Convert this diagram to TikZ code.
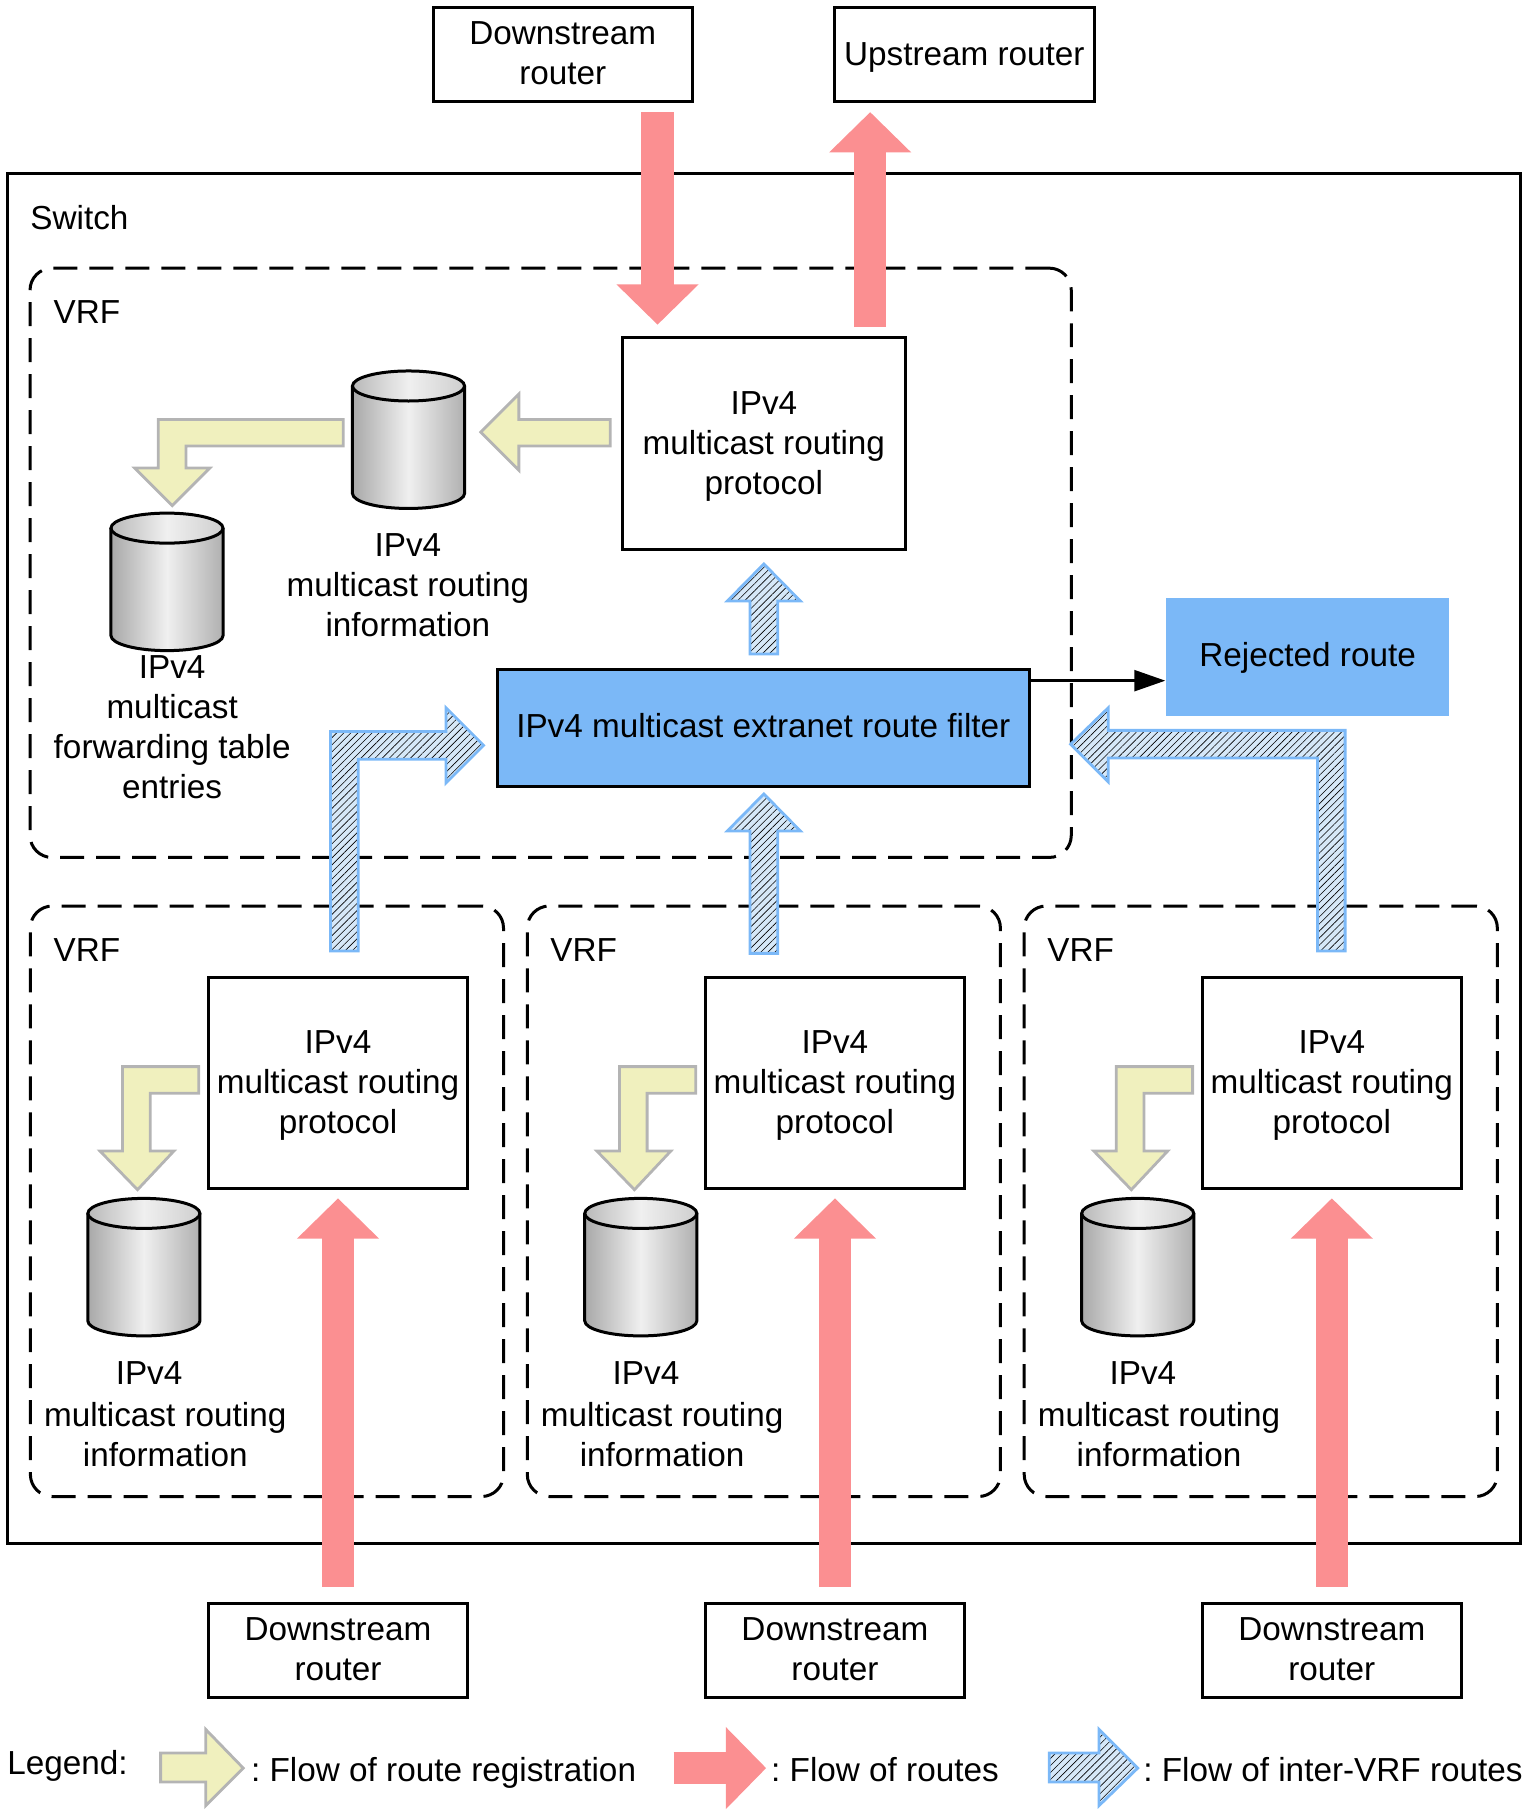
\documentclass[tikz,border=0pt]{standalone}
\usepackage{fontspec}
\setmainfont{Liberation Sans}
\usetikzlibrary{shapes,arrows.meta,positioning,calc,patterns.meta}
\definecolor{regyellow}{HTML}{F0F0BE}
\definecolor{reggray}{HTML}{B4B4B4}
\definecolor{routered}{HTML}{FB8F91}
\definecolor{filterblue}{HTML}{7BB8F7}
\definecolor{hatchblue}{HTML}{D6E8F8}
\frenchspacing
\newcommand{\lowerline}{\rule{0pt}{14.2pt}}

\begin{document}
\begin{tikzpicture}[
    x=0.5779pt, y=-0.5779pt,
    every node/.style={font=\fontsize{16.65}{20}\selectfont, align=center, inner sep=0pt},
    box/.style={rectangle, draw=black, line width=1.5pt, minimum width=129.8pt, minimum height=47pt},
    protobox/.style={box, minimum height=105.8pt},
    routerbox/.style={box, execute at end node={\rule[-1.2pt]{0pt}{0pt}}},
    filterbox/.style={box, fill=filterblue, minimum width=265.9pt, minimum height=58.5pt, execute at end node={\rule[-2.3pt]{0pt}{0pt}}},
    rejectbox/.style={rectangle, fill=filterblue, minimum width=141.9pt, minimum height=58.6pt, execute at begin node={\rule{0pt}{13.1pt}}},
    vrfbox/.style={rectangle, draw=black, line width=1.5pt, dash pattern=on 12pt off 6pt, rounded corners=11pt},
    textlabel/.style={anchor=west},
    dbase/.pic={
        \path[left color=gray!68, right color=gray!62, middle color=gray!12] (-48.5,-46.5) -- (-48.5,46.5)
            arc[start angle=180, end angle=0, x radius=48.5, y radius=13] -- (48.5,-46.5) -- cycle;
        \path[left color=gray!55, right color=gray!38, middle color=gray!12] (0,-46.5) ellipse[x radius=48.5, y radius=13];
        \draw[line width=1.5pt] (-48.5,-46.5) -- (-48.5,46.5)
            arc[start angle=180, end angle=0, x radius=48.5, y radius=13] -- (48.5,-46.5);
        \draw[line width=1.5pt] (0,-46.5) ellipse[x radius=48.5, y radius=13];
    },
    arrow/.style={-{Triangle[length=15.5pt,width=10.5pt]}, line width=1.2pt},
    routeflow/.style={-{Triangle[length=20.2pt,width=39.9pt]}, draw=routered, line width=16.2pt},
    regflow/.style={draw=reggray, fill=regyellow, line width=1.4pt},
    vrfflow/.style={draw=filterblue, line width=1.4pt, preaction={fill=hatchblue},
        pattern={Lines[angle=45,distance=2.5pt,line width=0.3pt]}, pattern color=black}
]
    \useasboundingbox (0,0) rectangle (1322,1568);

    % Switch and top VRF
    \node[rectangle, draw=black, line width=1.5pt, minimum width=756.5pt, minimum height=685pt] (switch) at (661,743) {};
    \node[textlabel] (switch_label) at (26,188) {Switch};
    \node[vrfbox, minimum width=520.7pt, minimum height=294.7pt] (vrf_top) at (476.5,487) {};
    \node[textlabel] (vrf_top_label) at (46,270) {VRF};

    % Routers above the switch
    \node[routerbox] (down_top) at (487,47) {Downstream\\router};
    \node[box] (up_top) at (834.5,47) {\lowerline Upstream router};

    % Top VRF contents
    \node[protobox, minimum width=141.7pt] (proto_top) at (661,384) {\lowerline IPv4\\multicast routing\\protocol};
    \node[filterbox] (filter) at (660.5,630) {IPv4 multicast extranet route filter};
    \node[rejectbox] (rejected) at (1131.5,568.5) {Rejected route};
    \pic (info_top) at (353.5,380.5) {dbase};
    \node (info_top_label) at (353,506) {IPv4\\multicast routing\\information};
    \pic (fwd_top) at (144.5,503.5) {dbase};
    \node (fwd_top_label) at (149,629) {IPv4\\multicast\\forwarding table\\entries};

    % Lower VRFs
    \foreach \i/\dx in {a/0,b/430,c/860} {
        \begin{scope}[shift={(\dx,0)}]
            \node[vrfbox, minimum width=236.6pt, minimum height=295.3pt] (vrf_\i) at (231,1039.5) {};
            \node[textlabel] (vrf_\i_label) at (46,822) {VRF};
            \node[protobox] (proto_\i) at (292.5,937) {\lowerline IPv4\\multicast routing\\protocol};
            \pic (info_\i) at (124.5,1096.5) {dbase};
            \node (info_\i_head) at (129,1188) {IPv4};
            \node (info_\i_label) at (143,1241) {multicast routing\\information};
            \node[routerbox] (down_\i) at (292.5,1428) {Downstream\\router};
            \draw[regflow] (172,923) -- (106,923) -- (106,996) -- (86.5,996) -- (119,1029.5) -- (150.5,996) -- (130,996) -- (130,946) -- (172,946) -- cycle;
            \draw[routeflow, shorten <=7.6pt, shorten >=4.1pt] (down_\i.north) -- (proto_\i.south);
        \end{scope}
    }

    % Flow of routes at the top
    \coordinate (in_start) at (569,97);
    \coordinate (in_end) at (569,281);
    \coordinate (out_start) at (753,283);
    \coordinate (out_end) at (753,97);
    \draw[routeflow] (in_start) -- (in_end);
    \draw[routeflow] (out_start) -- (out_end);

    % Route registration in the top VRF
    \draw[regflow] (528,363) -- (449,363) -- (449,341) -- (416,374) -- (449,407) -- (449,386) -- (528,386) -- cycle;
    \draw[regflow] (297,363) -- (137,363) -- (137,405) -- (116.5,405) -- (149,437.5) -- (181.5,405) -- (161,405) -- (161,386) -- (297,386) -- cycle;

    % Inter-VRF routes
    \draw[vrfflow] (649,566) -- (649,520) -- (629.5,520) -- (661,488) -- (692.5,520) -- (673,520) -- (673,566) -- cycle;
    \draw[vrfflow] (649,825) -- (649,719) -- (629.5,719) -- (661,687) -- (692.5,719) -- (673,719) -- (673,825) -- cycle;
    \draw[vrfflow] (286,823) -- (286,633) -- (386,633) -- (386,612.5) -- (418.5,645) -- (386,677.5) -- (386,657) -- (310,657) -- (310,823) -- cycle;
    \draw[vrfflow] (1164,823) -- (1164,632) -- (959,632) -- (959,612.5) -- (926.5,644) -- (959,676.5) -- (959,656) -- (1140,656) -- (1140,823) -- cycle;

    % Rejected route
    \coordinate (reject_tap) at (891,589);
    \draw[arrow] (reject_tap) -- (rejected.west |- reject_tap);

    % Legend
    \node[textlabel] (legend) at (6,1528) {Legend:};
    \draw[regflow] (139,1517) -- (178,1517) -- (178,1496.5) -- (210.5,1530) -- (178,1562.5) -- (178,1542) -- (139,1542) -- cycle;
    \node[textlabel] (legend_reg) at (217,1534) {: Flow of route registration};
    \coordinate (legend_start) at (583,1530);
    \coordinate (legend_end) at (663,1530);
    \draw[routeflow] (legend_start) -- (legend_end);
    \node[textlabel] (legend_route) at (667,1531) {: Flow of routes};
    \draw[vrfflow] (908,1517) -- (951,1517) -- (951,1496.5) -- (984.5,1530) -- (951,1562.5) -- (951,1542) -- (908,1542) -- cycle;
    \node[textlabel] (legend_vrf) at (989,1531) {: Flow of inter-VRF routes};
\end{tikzpicture}
\end{document}
